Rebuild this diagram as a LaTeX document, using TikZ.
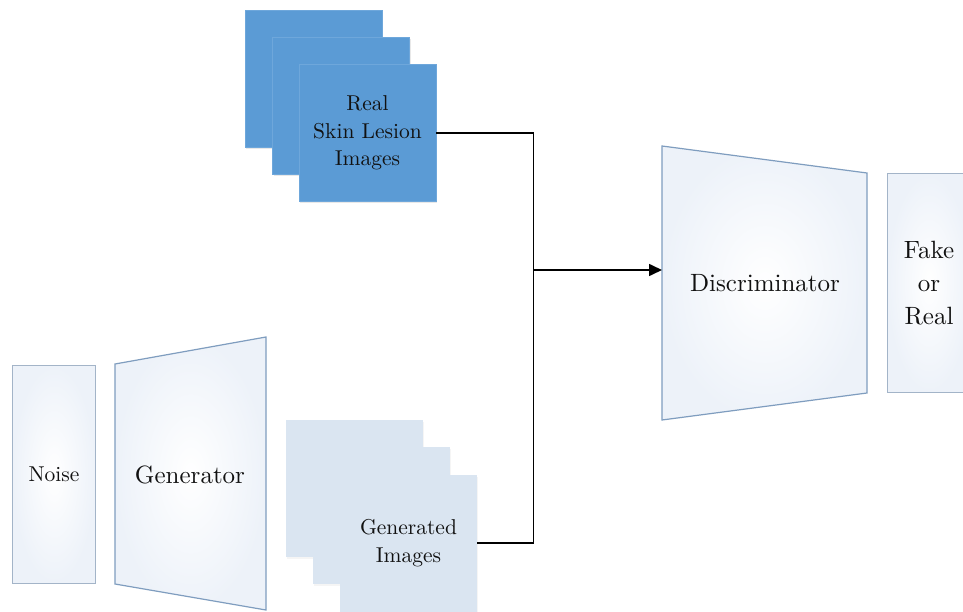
\documentclass[tikz,border=0pt]{standalone}
\usepackage{fontspec}
\setmainfont{lmroman10-regular}[Extension=.otf, BoldFont=lmroman10-bold]
\usetikzlibrary{arrows.meta,shadows}
\definecolor{realblue}{HTML}{5B9BD5}
\definecolor{realedge}{HTML}{6EA7DB}
\definecolor{genblue}{HTML}{DAE5F1}
\definecolor{boxedge}{HTML}{A3B4C8}
\definecolor{trapedge}{HTML}{7F9DBF}
\definecolor{shadeblue}{HTML}{EDF2F9}
\definecolor{txt}{HTML}{111111}
\begin{document}
\begin{tikzpicture}[x=1pt,y=-1pt,
  realimg/.style={fill=realblue, draw=realedge, line width=0.6pt, minimum width=137pt, minimum height=137pt, inner sep=0pt,
    drop shadow={opacity=0.18, shadow xshift=1pt, shadow yshift=-2pt}},
  genimg/.style={fill=genblue, minimum width=137pt, minimum height=137pt, inner sep=0pt,
    drop shadow={opacity=0.08, shadow xshift=1pt, shadow yshift=-2pt}},
  tallbox/.style={draw=boxedge, line width=1pt, inner color=white, outer color=shadeblue,
    minimum width=83pt, minimum height=218pt, inner sep=0pt},
  trap/.style={draw=trapedge, line width=1.2pt, inner color=white, outer color=shadeblue},
  midtxt/.style={text=txt, font=\fontsize{21.5}{27.5}\selectfont, align=center},
  bigtxt/.style={text=txt, font=\fontsize{25}{33}\selectfont, align=center},
  conn/.style={draw=black, line width=1.6pt}
]
\useasboundingbox (0,0) rectangle (963,612);
\fill[white] (0,0) rectangle (963,612);
\clip (0,0) rectangle (963,612);

% real images stack
\node[realimg] (realA) at (313.5,78.5) {};
\node[realimg] (realB) at (341,105.5) {};
\node[realimg] (realF) at (367.5,133) {};
\node[midtxt] (realT) at (367.5,133) {Real\\Skin Lesion\\Images};

% generated images stack
\node[genimg] (genA) at (354.5,488.5) {};
\node[genimg] (genB) at (381.5,515) {};
\node[genimg] (genF) at (408.5,543) {};
\node[midtxt] (genT) at (408.5,543) {Generated\\Images};

% noise
\node[tallbox, midtxt] (noise) at (54,474) {Noise};

% generator
\path[trap] (115,364) -- (266,337) -- (266,610) -- (115,584) -- cycle;
\node[bigtxt] (gen) at (190,475) {Generator};

% discriminator
\path[trap] (662,146) -- (867,173) -- (867,393) -- (662,420) -- cycle;
\node[bigtxt] (disc) at (765,283) {Discriminator};
\coordinate (dIn) at (662,270);

% fake or real
\node[tallbox, bigtxt, minimum width=84pt] (out) at (929,283) {Fake\\or\\Real};

% connectors
\coordinate (j) at (533.5,270);
\draw[conn] (realF.east) -| (j);
\draw[conn] (genF.east) -| (j);
\draw[conn, -{Triangle[length=13pt,width=12pt]}] (j) -- (dIn);
\end{tikzpicture}
\end{document}
